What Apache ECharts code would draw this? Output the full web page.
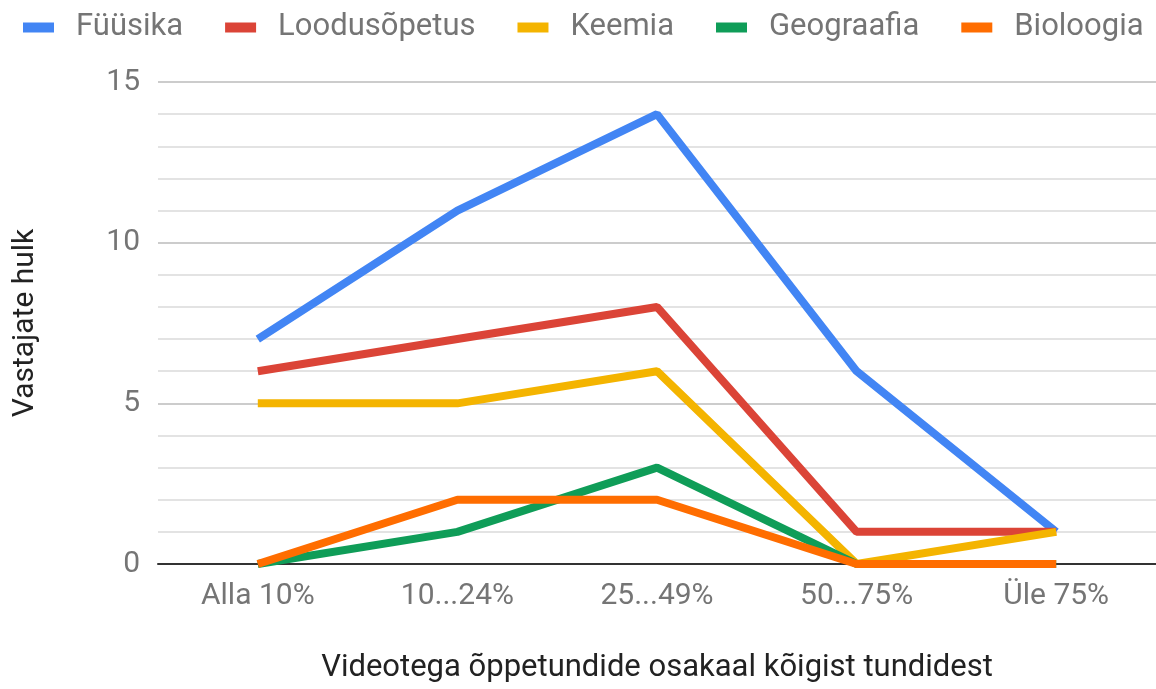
<!DOCTYPE html>
<html>
<head>
	<meta charset="utf-8">
	<title></title>
	<script src="https://cdn.jsdelivr.net/npm/echarts@6/dist/echarts.min.js"></script>
	<style>
		body { margin: 0; background: #fff; }
	</style>
</head>
<body>
	<div id="chart" style="width: 1156px; height: 689px;"></div>
	<script>
		// kategooriad ja väärtused
		var categories = ["Alla 10%", "10...24%", "25...49%", "50...75%", "Üle 75%"]
		var fyysika = [7, 11, 14, 6, 1]
		var loodus = [6, 7, 8, 1, 1]
		var keemia = [5, 5, 6, 0, 1]
		var geograafia = [0, 1, 3, 0, 0]
		var bioloogia = [0, 2, 2, 0, 0]

		var names = ["Füüsika", "Loodusõpetus", "Keemia", "Geograafia", "Bioloogia"]
		var values = [fyysika, loodus, keemia, geograafia, bioloogia]
		var colors = ["#4285F4", "#DB4437", "#F4B400", "#0F9D58", "#FF6D00"]

		var mCharts = echarts.init(document.getElementById("chart"))

		var series = names.map(function (n, i) {
			return {
				name: n,
				type: "line",
				data: values[i],
				showSymbol: false,
				symbol: "none",
				lineStyle: { width: 8, color: colors[i] },
				itemStyle: { color: colors[i] },
				z: 2 + i
			}
		})

		var opt = {
			color: colors,
			textStyle: { fontFamily: "Roboto" },
			legend: {
				left: 23,
				top: 12,
				width: 1133,
				padding: 0,
				itemWidth: 31,
				itemHeight: 10,
				itemGap: 42,
				icon: "rect",
				formatter: function (name) { return "{g| }" + name },
				textStyle: {
					fontSize: 31,
					color: "#757575",
					rich: { g: { width: 17 } }
				}
			},
			grid: { left: 158, top: 82, width: 1000, height: 482 },
			xAxis: {
				type: "category",
				data: categories,
				name: "Videotega õppetundide osakaal kõigist tundidest",
				nameLocation: "middle",
				nameGap: 89,
				nameTextStyle: { fontSize: 31, color: "#222" },
				axisLine: { lineStyle: { color: "#333", width: 2 } },
				axisTick: { show: false },
				axisLabel: { fontSize: 30, color: "#757575", margin: 17 }
			},
			yAxis: {
				type: "value",
				min: 0,
				max: 15,
				interval: 5,
				name: "Vastajate hulk",
				nameLocation: "middle",
				nameGap: 118,
				nameTextStyle: { fontSize: 30, color: "#222" },
				axisLine: { show: false },
				axisTick: { show: false },
				minorTick: { show: false, splitNumber: 5 },
				splitLine: { lineStyle: { color: "#cccccc", width: 2 } },
				minorSplitLine: { show: true, lineStyle: { color: "#e3e3e3", width: 2 } },
				axisLabel: { fontSize: 30, color: "#757575", margin: 18 }
			},
			series: series
		}

		mCharts.setOption(opt)
	</script>
</body>
</html>
